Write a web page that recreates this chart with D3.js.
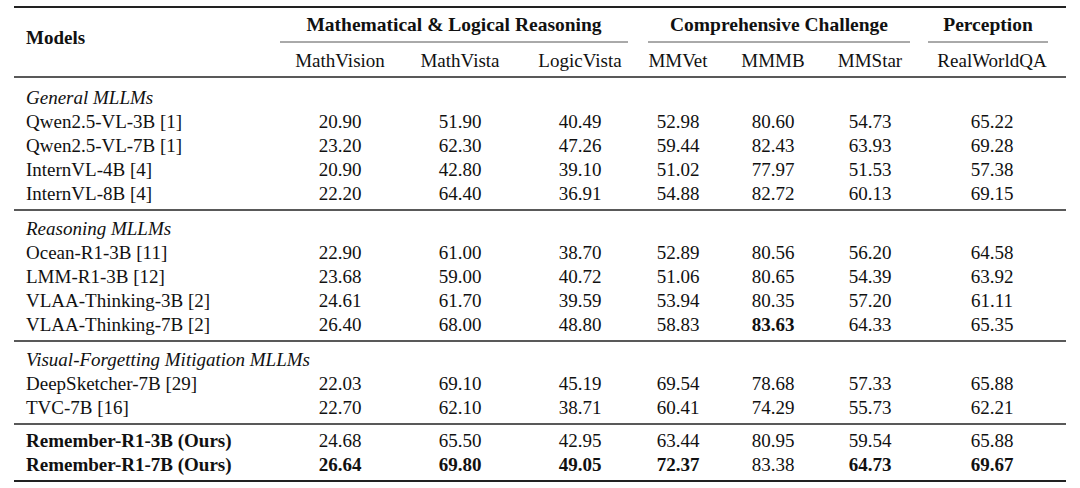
<html>
<head>
<meta charset="utf-8">
<script src="https://d3js.org/d3.v7.min.js"></script>
<style>
  body { margin: 0; background: #fff; }
  text { font-family: "Liberation Serif", "DejaVu Serif", serif; fill: #111; }
</style>
</head>
<body>
<svg id="chart" width="1080" height="488"></svg>
<script>
const groups = [
  {name: "Mathematical & Logical Reasoning", x0: 280, x1: 628},
  {name: "Comprehensive Challenge", x0: 648, x1: 910},
  {name: "Perception", x0: 928, x1: 1048}
]
const benchmarks = ["MathVision", "MathVista", "LogicVista", "MMVet", "MMMB", "MMStar", "RealWorldQA"]
const colCenters = [340, 460, 580, 678, 773, 870, 992]

const sections = [
  {title: "General MLLMs", rows: [
    ["Qwen2.5-VL-3B [1]", "20.90", "51.90", "40.49", "52.98", "80.60", "54.73", "65.22"],
    ["Qwen2.5-VL-7B [1]", "23.20", "62.30", "47.26", "59.44", "82.43", "63.93", "69.28"],
    ["InternVL-4B [4]", "20.90", "42.80", "39.10", "51.02", "77.97", "51.53", "57.38"],
    ["InternVL-8B [4]", "22.20", "64.40", "36.91", "54.88", "82.72", "60.13", "69.15"]]},
  {title: "Reasoning MLLMs", rows: [
    ["Ocean-R1-3B [11]", "22.90", "61.00", "38.70", "52.89", "80.56", "56.20", "64.58"],
    ["LMM-R1-3B [12]", "23.68", "59.00", "40.72", "51.06", "80.65", "54.39", "63.92"],
    ["VLAA-Thinking-3B [2]", "24.61", "61.70", "39.59", "53.94", "80.35", "57.20", "61.11"],
    ["VLAA-Thinking-7B [2]", "26.40", "68.00", "48.80", "58.83", "83.63", "64.33", "65.35"]]},
  {title: "Visual-Forgetting Mitigation MLLMs", rows: [
    ["DeepSketcher-7B [29]", "22.03", "69.10", "45.19", "69.54", "78.68", "57.33", "65.88"],
    ["TVC-7B [16]", "22.70", "62.10", "38.71", "60.41", "74.29", "55.73", "62.21"]]},
  {title: null, rows: [
    ["Remember-R1-3B (Ours)", "24.68", "65.50", "42.95", "63.44", "80.95", "59.54", "65.88"],
    ["Remember-R1-7B (Ours)", "26.64", "69.80", "49.05", "72.37", "83.38", "64.73", "69.67"]]}
]
// bold cells: [section, row, column]  (column 0 = model name)
const boldCells = [[1,3,5],[3,1,1],[3,1,2],[3,1,3],[3,1,4],[3,1,6],[3,1,7]]
const boldNameSections = [3]

const svg = d3.select("#chart")
const x = d3.scaleOrdinal().domain(benchmarks).range(colCenters)
const left = 26, ruleL = 14, ruleR = 1066, rowH = 24, fs = "19px"

function rule(y, w) {
  svg.append("line").attr("x1", ruleL).attr("x2", ruleR).attr("y1", y).attr("y2", y)
    .attr("stroke", "#222").attr("stroke-width", w)
}

rule(7, 2)
svg.append("text").attr("x", left).attr("y", 44).text("Models")
  .style("font-size", "19px").style("font-weight", "bold")

groups.forEach(g => {
  svg.append("text").attr("x", (g.x0 + g.x1) / 2).attr("y", 31).attr("text-anchor", "middle")
    .text(g.name).style("font-size", "19.5px").style("font-weight", "bold")
  svg.append("line").attr("x1", g.x0).attr("x2", g.x1).attr("y1", 42).attr("y2", 42)
    .attr("stroke", "#555").attr("stroke-width", 1)
})

svg.selectAll(".bench").data(benchmarks).enter().append("text")
  .attr("x", d => x(d)).attr("y", 67).attr("text-anchor", "middle")
  .style("font-size", fs).text(d => d)

rule(77, 1.5)

let y = 79
sections.forEach((s, si) => {
  y += s.title ? 25 : 23
  if (s.title) {
    svg.append("text").attr("x", left).attr("y", y).text(s.title)
      .style("font-size", fs).style("font-style", "italic")
    y += rowH
  }
  s.rows.forEach((r, ri) => {
    const yy = y
    svg.append("text").attr("x", left).attr("y", yy).text(r[0])
      .style("font-size", fs)
      .style("font-weight", boldNameSections.includes(si) ? "bold" : "normal")
    r.slice(1).forEach((v, ci) => {
      const b = boldCells.some(c => c[0] == si && c[1] == ri && c[2] == ci + 1)
      svg.append("text").attr("x", x(benchmarks[ci])).attr("y", yy).attr("text-anchor", "middle")
        .style("font-size", fs).style("font-weight", b ? "bold" : "normal").text(v)
    })
    y += rowH
  })
  y -= rowH
  y += 10
  rule(y, si < sections.length - 1 ? 1.5 : 2)
})
</script>
</body>
</html>
